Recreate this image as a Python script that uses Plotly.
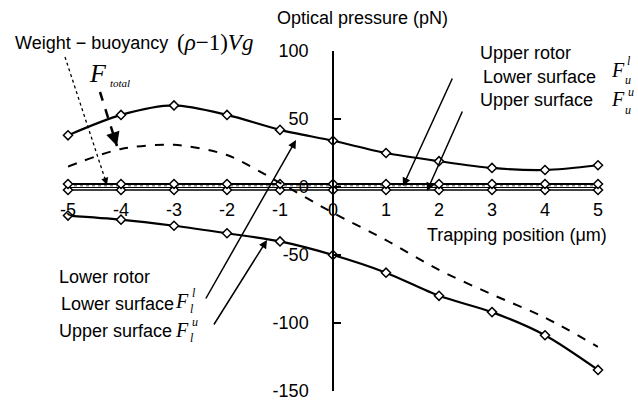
import plotly.graph_objects as go

# ---- data ----
positions = [-5, -4, -3, -2, -1, 0, 1, 2, 3, 4, 5]
lower_rotor_lower_surface = [38, 53, 60, 53, 42, 34, 25, 19, 14, 12.5, 16]          # F_l^l
lower_rotor_upper_surface = [-21, -24, -28.5, -34, -40, -50, -63, -80, -92, -109, -134.5]  # F_l^u
total_force = [15, 28, 31, 23.5, 3, -19, -39, -61, -79, -96, -117.5]                # F_total
upper_rotor_lower_surface = [2.2, 2.2, 2.2, 2.2, 2.2, 2.2, 2.2, 2.2, 2.2, 2.2, 2.2]  # F_u^l
upper_rotor_upper_surface = [-2.2, -2.2, -2.2, -2.2, -2.2, -2.2, -2.2, -2.2, -2.2, -2.2, -2.2]  # F_u^u
weight_buoyancy = [1.0] * 11                                                         # (rho-1)Vg

x_tick_vals = [-5, -4, -3, -2, -1, 0, 1, 2, 3, 4, 5]
x_tick_text = ["-5", "-4", "-3", "-2", "-1", "0", "1", "2", "3", "4", "5"]
y_tick_vals = [100, 50, 0, -50, -100, -150]
y_tick_text = ["100", "50", "0", "-50", "-100", "-150"]

# ---- layout geometry ----
W, H = 638, 401
L, R, T, B = 68, 40, 51, 10
PW, PH = W - L - R, H - T - B


def px(x):
    return (x - L) / PW


def py(y):
    return (H - B - y) / PH


SANS = "Liberation Sans, Arial, sans-serif"
SERIF = "Liberation Serif, Times New Roman, serif"
FS = 18

fig = go.Figure()

marker = dict(symbol="diamond", size=7, color="white", line=dict(color="black", width=1.5))

fig.add_trace(go.Scatter(x=positions, y=weight_buoyancy, mode="lines",
                         line=dict(color="#888888", width=1.5, dash="dot"), cliponaxis=False))
fig.add_trace(go.Scatter(x=positions, y=upper_rotor_upper_surface, mode="lines+markers",
                         line=dict(color="black", width=1.5), marker=marker, cliponaxis=False))
fig.add_trace(go.Scatter(x=positions, y=upper_rotor_lower_surface, mode="lines+markers",
                         line=dict(color="black", width=2), marker=marker, cliponaxis=False))
fig.add_trace(go.Scatter(x=positions, y=total_force, mode="lines",
                         line=dict(color="black", width=2, dash="dash", shape="spline", smoothing=0.8),
                         cliponaxis=False))
fig.add_trace(go.Scatter(x=positions, y=lower_rotor_lower_surface, mode="lines+markers",
                         line=dict(color="black", width=2.2, shape="spline", smoothing=0.8),
                         marker=marker, cliponaxis=False))
fig.add_trace(go.Scatter(x=positions, y=lower_rotor_upper_surface, mode="lines+markers",
                         line=dict(color="black", width=2.2, shape="spline", smoothing=0.8),
                         marker=marker, cliponaxis=False))

fig.update_layout(
    width=W, height=H,
    margin=dict(l=L, r=R, t=T, b=B, autoexpand=False),
    paper_bgcolor="white", plot_bgcolor="white",
    showlegend=False,
    font=dict(family=SANS, size=FS, color="black"),
    xaxis=dict(range=[-5, 5], anchor="free", position=150 / 250, automargin=False,
               showline=True, linecolor="black", linewidth=1,
               showgrid=False, zeroline=False, ticks="",
               tickvals=x_tick_vals, ticktext=x_tick_text,
               ticklabelstandoff=6, ticklabeloverflow="allow",
               tickfont=dict(family=SANS, size=FS)),
    yaxis=dict(range=[-150, 100], anchor="free", position=0.5, automargin=False,
               showline=True, linecolor="black", linewidth=1.5,
               showgrid=False, zeroline=False, ticks="inside", ticklen=7,
               tickcolor="black", tickwidth=1.5,
               tickvals=y_tick_vals, ticktext=y_tick_text,
               ticklabelstandoff=20, ticklabeloverflow="allow",
               tickfont=dict(family=SANS, size=FS)),
)

ann = []


def text(x, y, s, size=FS, family=SANS, xanchor="left"):
    ann.append(dict(xref="paper", yref="paper", x=px(x), y=py(y), text=s, showarrow=False,
                    xanchor=xanchor, yanchor="middle", borderpad=0,
                    font=dict(family=family, size=size, color="black")))


def arrow(tail, head, width=1.5):
    ann.append(dict(xref="paper", yref="paper", x=px(head[0]), y=py(head[1]), text="",
                    showarrow=True, ax=tail[0] - head[0], ay=tail[1] - head[1],
                    arrowhead=2, arrowsize=1.1, arrowwidth=width, arrowcolor="black"))


def dashed_arrow(tail, head, width, dash):
    fig.add_shape(type="line", xref="paper", yref="paper",
                  x0=px(tail[0]), y0=py(tail[1]), x1=px(head[0]), y1=py(head[1]),
                  line=dict(color="black", width=width, dash=dash))
    dx, dy = tail[0] - head[0], tail[1] - head[1]
    n = (dx * dx + dy * dy) ** 0.5
    arrow((head[0] + dx / n * 8, head[1] + dy / n * 8), head, width)


# axis titles
text(362, 18, "Optical pressure (pN)", xanchor="center")
text(517, 235, "Trapping position (μm)", xanchor="center")

# weight - buoyancy
text(14, 43, "Weight − buoyancy")
text(176, 42, "(<i>ρ</i>−1)<i>Vg</i>", size=23, family=SERIF)
dashed_arrow((65, 57), (107, 185), 1.3, "dot")

# F_total
text(88, 73, "<i>F</i>", size=26, family=SERIF)
text(109, 83, "<i>total</i>", size=11, family=SERIF)
dashed_arrow((100, 92), (117, 146), 2.5, "dash")

# upper rotor
text(479, 53, "Upper rotor")
text(482, 77, "Lower surface")
text(479, 100, "Upper surface")
text(610, 70, "<i>F</i>", size=20, family=SERIF)
text(626, 61, "<i>l</i>", size=12, family=SERIF)
text(624, 80, "<i>u</i>", size=12, family=SERIF)
text(610, 99, "<i>F</i>", size=20, family=SERIF)
text(627, 92, "<i>u</i>", size=12, family=SERIF)
text(624, 110, "<i>u</i>", size=12, family=SERIF)
arrow((453, 77), (403, 186))
arrow((463, 110), (427, 191))

# lower rotor
text(58, 277, "Lower rotor")
text(60, 304, "Lower surface")
text(58, 331, "Upper surface")
text(174, 301, "<i>F</i>", size=20, family=SERIF)
text(191, 293, "<i>l</i>", size=12, family=SERIF)
text(189, 309, "<i>l</i>", size=12, family=SERIF)
text(174, 330, "<i>F</i>", size=20, family=SERIF)
text(191, 322, "<i>u</i>", size=12, family=SERIF)
text(189, 338, "<i>l</i>", size=12, family=SERIF)
arrow((205, 300), (296, 140))
arrow((213, 326), (267, 240))

fig.update_layout(annotations=ann)

fig.write_html("out.html", config={"displayModeBar": False},
               post_script="document.body.style.margin='0';document.body.style.overflow='hidden';")
